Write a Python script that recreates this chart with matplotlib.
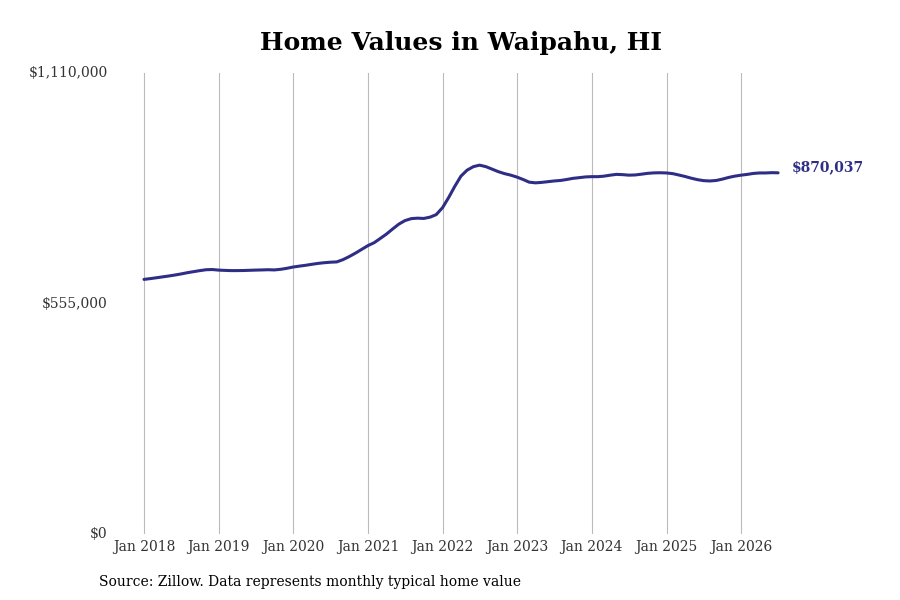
import numpy as np
import pandas as pd
import matplotlib
matplotlib.use("Agg")
import matplotlib.pyplot as plt
import matplotlib.dates as mdates
from matplotlib.ticker import FuncFormatter

plt.rcParams['font.family'] = ['DejaVu Serif']

# monthly typical home value, Jan 2018 .. Jul 2026
months = pd.date_range("2018-01-01", "2026-07-01", freq="MS")
values = [
    613300, 615200, 617100, 619300, 621400, 623800, 626400, 629400, 632000, 634400, 636600, 637100,
    635700, 635000, 634500, 634500, 634700, 635200, 635700, 636100, 636600, 636100, 637600, 640000,
    643100, 645300, 647200, 649600, 651800, 653500, 654700, 655400, 660900, 668200, 676600, 685500,
    694700, 701900, 711500, 722300, 734400, 746400, 754900, 759700, 760800, 760100, 763300, 769300,
    786100, 811400, 836700, 862000, 876400, 884900, 888500, 884900, 878800, 872800, 868000, 864400,
    859600, 853600, 847500, 845900, 847000, 848700, 850400, 851600, 854000, 856700, 858400, 860100,
    860800, 860800, 862000, 864400, 866300, 865600, 864400, 864900, 866800, 868800, 869900, 870200,
    869700, 868000, 864900, 861300, 857200, 853600, 851200, 850400, 851600, 854800, 858900, 862000,
    864400, 866300, 868500, 869700, 869700, 870400, 870037,
]
y_ticks = [0, 555000, 1110000]
tick_years = list(range(2018, 2027))

line_color = "#2e2e86"

fig = plt.figure(figsize=(9, 6), dpi=100)
ax = fig.add_axes([0.125, 0.11, 0.755, 0.768])

ax.plot(months, values, color=line_color, lw=2.2, solid_capstyle="round")

ax.set_ylim(0, 1110000)
ax.set_yticks(y_ticks)
ax.yaxis.set_major_formatter(FuncFormatter(lambda v, p: f"${v:,.0f}"))

ax.set_xlim(months[0] - pd.Timedelta(days=154), months[-1] + pd.Timedelta(days=68))
ax.set_xticks([pd.Timestamp(f"{y}-01-01") for y in tick_years])
ax.xaxis.set_major_formatter(mdates.DateFormatter("Jan %Y"))

ax.grid(axis="x", color="#bbbbbb", lw=0.8)
ax.grid(axis="y", visible=False)
for s in ax.spines.values():
    s.set_visible(False)
ax.tick_params(axis="both", length=0, labelsize=10, colors="#333333")
ax.tick_params(axis="y", pad=3.5)
ax.tick_params(axis="x", pad=4)
for lab in ax.get_yticklabels():
    lab.set_verticalalignment("center")

ax.annotate(f"${values[-1]:,}", xy=(months[-1], values[-1]), xytext=(10, 4),
            textcoords="offset points", color=line_color, fontsize=10,
            fontweight="bold", va="center", ha="left", annotation_clip=False)

fig.text(0.512, 0.928, "Home Values in Waipahu, HI", ha="center", va="center",
         fontsize=18, fontweight="bold")
fig.text(0.11, 0.03, "Source: Zillow. Data represents monthly typical home value",
         ha="left", va="center", fontsize=10)

fig.savefig("out.png", dpi=100)
